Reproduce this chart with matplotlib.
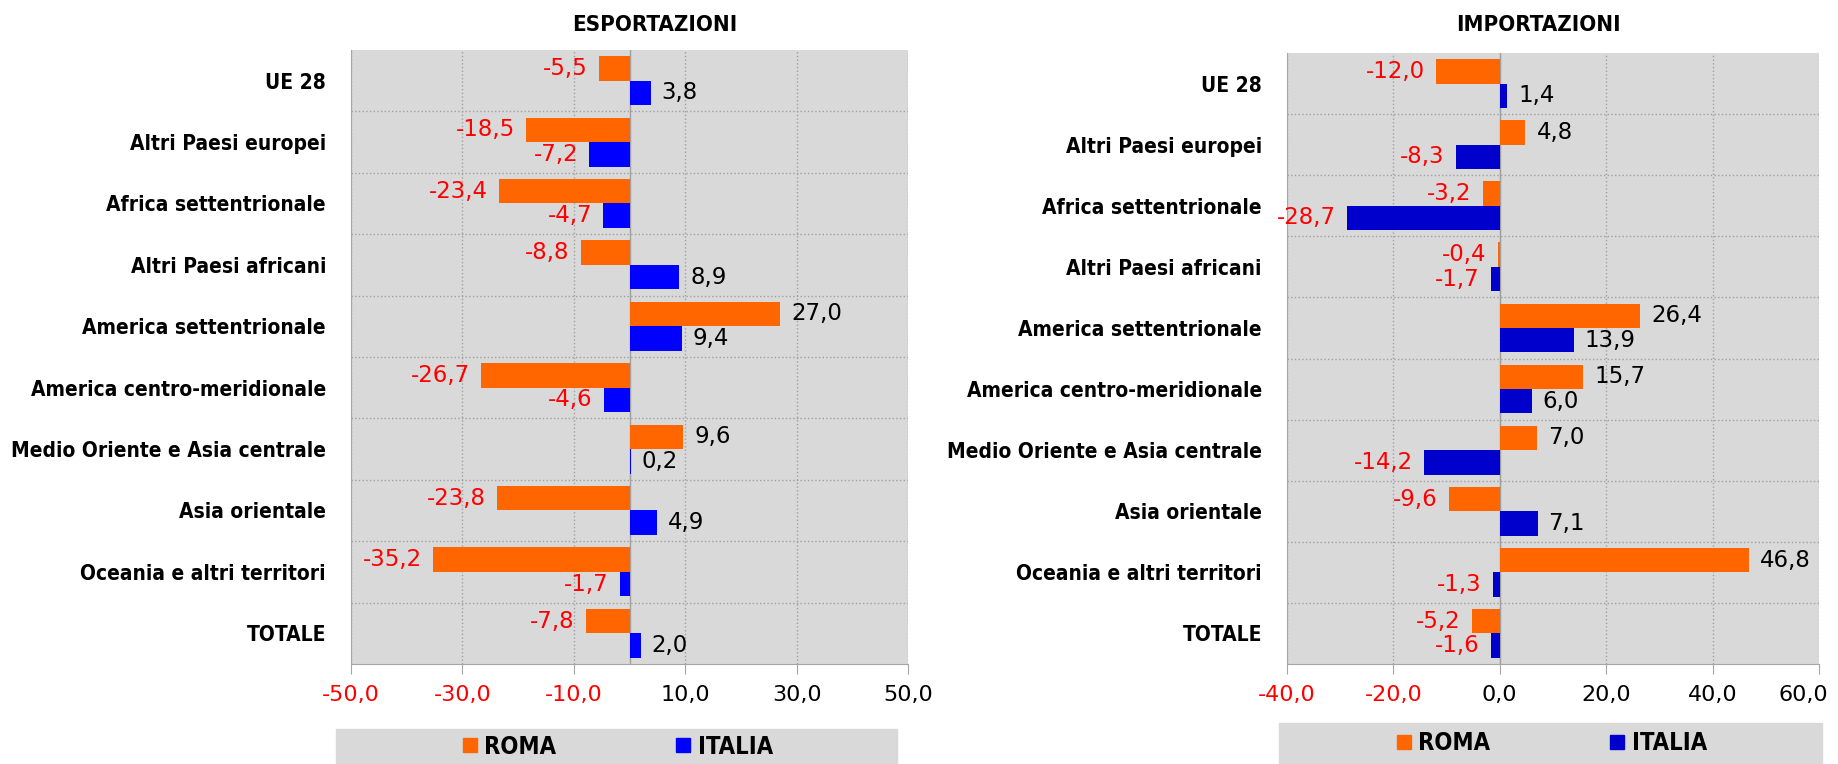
import matplotlib
matplotlib.use("Agg")
import matplotlib.pyplot as plt
from matplotlib import font_manager as fm
from matplotlib.patches import Rectangle
from matplotlib.lines import Line2D
from matplotlib.transforms import ScaledTranslation

# Dati
categorie = ["UE 28", "Altri Paesi europei", "Africa settentrionale",
             "Altri Paesi africani", "America settentrionale",
             "America centro-meridionale", "Medio Oriente e Asia centrale",
             "Asia orientale", "Oceania e altri territori", "TOTALE"]
esp_roma = [-5.5, -18.5, -23.4, -8.8, 27.0, -26.7, 9.6, -23.8, -35.2, -7.8]
esp_italia = [3.8, -7.2, -4.7, 8.9, 9.4, -4.6, 0.2, 4.9, -1.7, 2.0]
imp_roma = [-12.0, 4.8, -3.2, -0.4, 26.4, 15.7, 7.0, -9.6, 46.8, -5.2]
imp_italia = [1.4, -8.3, -28.7, -1.7, 13.9, 6.0, -14.2, 7.1, -1.3, -1.6]
esp_ticks = [-50, -30, -10, 10, 30, 50]
imp_ticks = [-40, -20, 0, 20, 40, 60]

ARANCIO = "#FF6600"
GRIGIO = "#D9D9D9"

# carattere stretto in grassetto, se c'e'
stretti = [f.fname for f in fm.fontManager.ttflist
           if ("Narrow" in f.fname or "Condensed" in f.fname) and "Bold" in f.fname
           and "Oblique" not in f.fname and "Italic" not in f.fname]
if stretti:
    def fp(size):
        return fm.FontProperties(fname=sorted(stretti)[0], size=size)
    K = 1.0
else:
    def fp(size):
        return fm.FontProperties(family="DejaVu Sans", weight="bold", size=size)
    K = 0.85


def fmt(v):
    return f"{v:.1f}".replace(".", ",")


def pannello(ax, roma, italia, ticks, blu, titolo, tx):
    y = list(range(len(categorie)))
    ax.set_facecolor(GRIGIO)
    ax.barh([i - 0.2 for i in y], roma, height=0.4, color=ARANCIO, zorder=3)
    ax.barh([i + 0.2 for i in y], italia, height=0.4, color=blu, zorder=3)
    for i in y:
        for dy, v in ((-0.2, roma[i]), (0.2, italia[i])):
            neg = v < 0
            ax.annotate(fmt(v), (v, i + dy), xytext=(-8 if neg else 8, 0),
                        textcoords="offset points", va="center",
                        ha="right" if neg else "left", fontsize=16.5,
                        color="red" if neg else "black", annotation_clip=False)
    ax.set_xlim(ticks[0], ticks[-1])
    ax.set_ylim(len(categorie) - 0.5, -0.5)
    ax.set_xticks(ticks)
    ax.set_xticklabels([fmt(t) for t in ticks], fontsize=16)
    for lab, t in zip(ax.get_xticklabels(), ticks):
        lab.set_color("red" if t < 0 else "black")
    ax.set_yticks(y)
    ax.set_yticklabels(categorie, fontproperties=fp(15 * K))
    ax.tick_params(axis="y", length=0, pad=18)
    ax.tick_params(axis="x", length=7, color="#A6A6A6", pad=8)
    ax.grid(axis="x", color="#A0A0A0", linestyle=":", linewidth=1, zorder=1)
    for k in range(len(categorie) - 1):
        ax.axhline(k + 0.5, color="#A0A0A0", linestyle=":", linewidth=1, zorder=1)
    ax.axvline(0, color="#A0A0A0", linewidth=1, zorder=2)
    for s in ("top", "right"):
        ax.spines[s].set_visible(False)
    for s in ("left", "bottom"):
        ax.spines[s].set_color("#A6A6A6")
    fig.text(tx, 0.967, titolo, fontproperties=fp(16 * K), ha="center", va="center")


fig = plt.figure(figsize=(18.38, 7.64), dpi=100)
ax1 = fig.add_axes([0.191, 0.1309, 0.303, 0.8037])
ax2 = fig.add_axes([0.7002, 0.1309, 0.2894, 0.7997])

pannello(ax1, esp_roma, esp_italia, esp_ticks, "#0000FF", "ESPORTAZIONI", 0.356)
pannello(ax2, imp_roma, imp_italia, imp_ticks, "#0000CC", "IMPORTAZIONI", 0.837)

# l'ultima etichetta a destra rientra nel riquadro
ultima = ax2.get_xticklabels()[-1]
ultima.set_transform(ultima.get_transform() + ScaledTranslation(-0.16, 0, fig.dpi_scale_trans))

# Legende
for (x0, x1, y0), blu in (((336, 897, 729), "#0000FF"), ((1279, 1822, 723), "#0000CC")):
    fig.patches.append(Rectangle((x0 / 1838, 0), (x1 - x0) / 1838, (764 - y0) / 764,
                                 transform=fig.transFigure, color=GRIGIO, zorder=0))
    maniglie = [Line2D([], [], marker="s", linestyle="", markersize=10, color=ARANCIO),
                Line2D([], [], marker="s", linestyle="", markersize=10, color=blu)]
    fig.legend(maniglie, ["ROMA", "ITALIA"], ncol=2, frameon=False,
               loc="center", bbox_to_anchor=((x0 + x1) / 2 / 1838, (764 - (y0 + 764) / 2) / 764),
               prop=fp(17 * K), handletextpad=0.2, columnspacing=5, handlelength=0.8)

fig.savefig("out.png", dpi=100)
